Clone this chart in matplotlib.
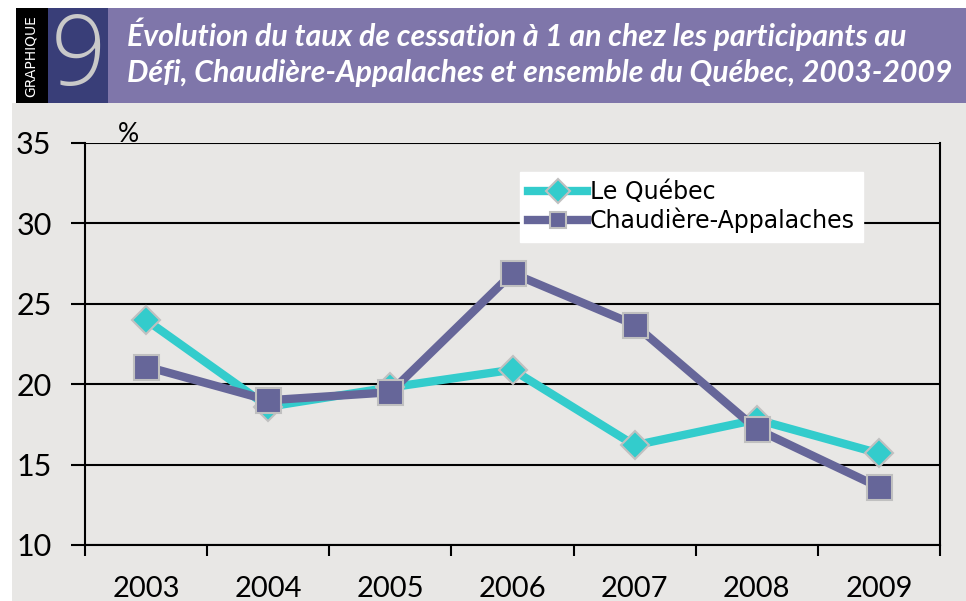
import matplotlib
matplotlib.use('Agg')
import matplotlib.pyplot as plt
from matplotlib.patches import Rectangle

years = ['2003', '2004', '2005', '2006', '2007', '2008', '2009']
quebec = [24.0, 18.6, 19.8, 20.9, 16.2, 17.8, 15.7]
chaudiere = [21.1, 19.0, 19.5, 26.9, 23.7, 17.2, 13.6]

W, H = 966, 601
fig = plt.figure(figsize=(W / 100, H / 100), dpi=100)
fig.patch.set_facecolor('white')


def fx(px):
    return px / W


def fy(py):
    return 1 - py / H


# page background and header band
fig.patches.append(Rectangle((fx(12), 0), fx(W - 12), fy(103), transform=fig.transFigure,
                             facecolor='#E8E7E5', edgecolor='none', zorder=-2))
fig.patches.append(Rectangle((fx(16), fy(103)), fx(32), 95 / H, transform=fig.transFigure,
                             facecolor='black', edgecolor='none', zorder=-1))
fig.patches.append(Rectangle((fx(48), fy(103)), fx(60), 95 / H, transform=fig.transFigure,
                             facecolor='#393E78', edgecolor='none', zorder=-1))
fig.patches.append(Rectangle((fx(108), fy(103)), fx(W - 108), 95 / H, transform=fig.transFigure,
                             facecolor='#7F76AA', edgecolor='none', zorder=-1))

fig.text(fx(31), fy(56), 'GRAPHIQUE', rotation=90, color='white', fontsize=10,
         ha='center', va='center', family='DejaVu Sans')
fig.text(fx(78), fy(60), '9', color='#C9C9C9', fontsize=70, ha='center', va='center',
         family='Open Sans', fontweight='light')
title_font = ['Lato', 'DejaVu Sans']
fig.text(fx(127), fy(34), 'Évolution du taux de cessation à 1 an chez les participants au',
         color='white', fontsize=21.8, fontweight='bold', style='italic', family=title_font,
         ha='left', va='center')
fig.text(fx(127), fy(73), 'Défi, Chaudière-Appalaches et ensemble du Québec, 2003-2009',
         color='white', fontsize=21.8, fontweight='bold', style='italic', family=title_font,
         ha='left', va='center')

# plot area
ax = fig.add_axes([fx(85), fy(545), fx(940 - 85), (545 - 143) / H])
ax.set_zorder(2)
ax.set_facecolor('#E8E7E5')
x = range(len(years))
ax.plot(x, quebec, color='#33CCCC', lw=6, marker='D', markersize=14,
        markerfacecolor='#33CCCC', markeredgecolor='#C0C0C0', markeredgewidth=1.5,
        label='Le Québec', zorder=3)
ax.plot(x, chaudiere, color='#666699', lw=6, marker='s', markersize=18,
        markerfacecolor='#666699', markeredgecolor='#C0C0C0', markeredgewidth=1.5,
        label='Chaudière-Appalaches', zorder=4)

ax.set_xlim(-0.5, len(years) - 0.5)
ax.set_ylim(10, 35)
ax.set_yticks([10, 15, 20, 25, 30, 35])
ax.yaxis.grid(True, color='black', lw=1.5)
ax.set_axisbelow(True)
ax.set_xticks([i - 0.5 for i in range(len(years) + 1)])
ax.set_xticklabels([])
ax.set_xticks(list(x), minor=True)
ax.set_xticklabels(years, minor=True)
ax.tick_params(axis='x', which='major', direction='out', length=8, width=1.5, color='black')
ax.tick_params(axis='x', which='minor', length=0, pad=22, labelsize=21)
ax.tick_params(axis='y', direction='out', length=10, width=1.5, labelsize=22, pad=14)
for lbl in ax.get_xticklabels(minor=True) + ax.get_yticklabels():
    lbl.set_family(['Lato', 'DejaVu Sans'])
for side in ['left', 'right', 'bottom']:
    ax.spines[side].set_color('black')
    ax.spines[side].set_linewidth(1.5)
ax.spines['top'].set_visible(False)

fig.text(fx(128), fy(135), '%', fontsize=19, ha='center', va='center',
         family='Lato', zorder=5)

leg = ax.legend(loc='upper left', bbox_to_anchor=((520 - 85) / 855, (545 - 172) / 402),
                frameon=True, fancybox=False, fontsize=17, handlelength=2.5,
                handletextpad=0.1, borderpad=0.35, labelspacing=0.15, borderaxespad=0)
leg.get_frame().set_facecolor('white')
leg.get_frame().set_edgecolor('white')
leg.get_frame().set_alpha(1)
for h in leg.legend_handles:
    h.set_markersize(12)

fig.savefig('out.png', dpi=100, facecolor=fig.get_facecolor())
